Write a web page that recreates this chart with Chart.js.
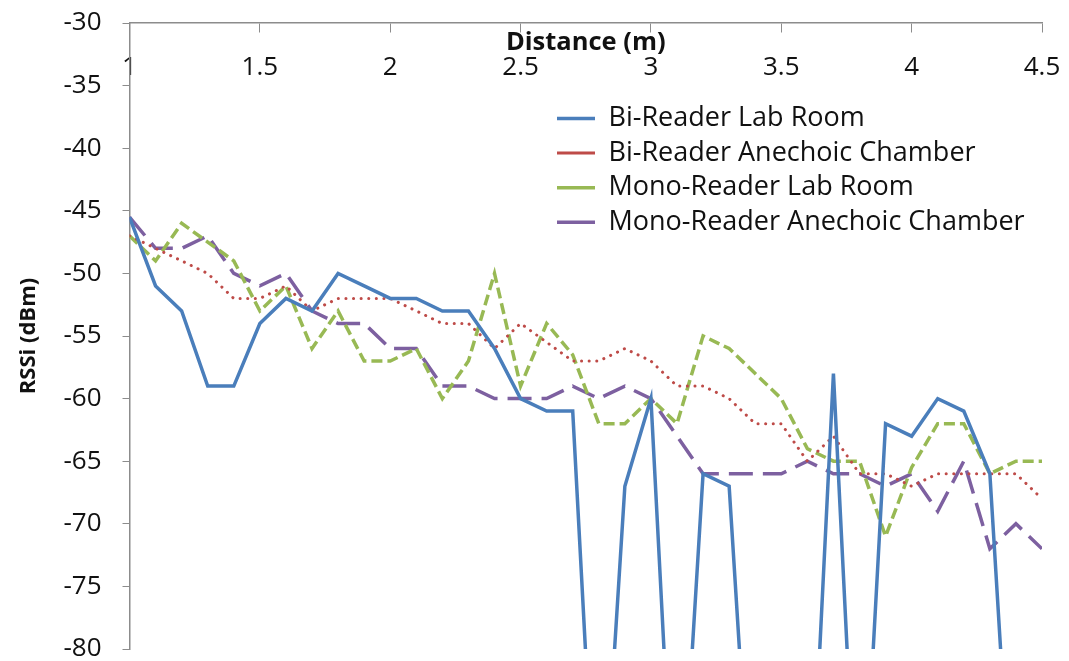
<!DOCTYPE html>
<html>
<head>
<meta charset="utf-8">
<title>RSSi vs Distance</title>
<script src="https://cdn.jsdelivr.net/npm/chart.js@4.4.1/dist/chart.umd.min.js"></script>
<style>
    html, body { margin: 0; padding: 0; background: #fff; }
    #wrap { width: 1069px; height: 661px; }
</style>
</head>
<body>
<div id="wrap"><canvas id="grafico-rssi" width="1069" height="661"></canvas></div>
<script>
// distance steps (m)
var distancias = [1.0, 1.1, 1.2, 1.3, 1.4, 1.5, 1.6, 1.7, 1.8, 1.9,
                  2.0, 2.1, 2.2, 2.3, 2.4, 2.5, 2.6, 2.7, 2.8, 2.9,
                  3.0, 3.1, 3.2, 3.3, 3.4, 3.5, 3.6, 3.7, 3.8, 3.9,
                  4.0, 4.1, 4.2, 4.3, 4.4, 4.5];

// RSSi readings (dBm); -100 = tag not read (falls off the bottom of the axis)
var biReaderLab = [-45.5, -51, -53, -59, -59, -54, -52, -53, -50, -51,
                   -52, -52, -53, -53, -56, -60, -61, -61, -100, -67,
                   -60, -100, -66, -67, -100, -100, -100, -58, -100, -62,
                   -63, -60, -61, -66, -100, -100];
var biReaderAnechoic = [-47, -48, -49, -50, -52, -52, -51, -53, -52, -52,
                        -52, -53, -54, -54, -56, -54, -55.5, -57, -57, -56,
                        -57, -59, -59, -60, -62, -62, -65, -63, -66, -66,
                        -67, -66, -66, -66, -66, -68];
var monoReaderLab = [-47, -49, -46, -47.5, -49, -53, -51, -56, -53, -57,
                     -57, -56, -60, -57, -50, -59, -54, -56.5, -62, -62,
                     -60, -62, -55, -56, -58, -60, -64, -65, -65, -71,
                     -65.5, -62, -62, -66, -65, -65];
var monoReaderAnechoic = [-45.5, -48, -48, -47, -50, -51, -50, -53, -54, -54,
                          -56, -56, -59, -59, -60, -60, -60, -59, -60, -59,
                          -60, -63, -66, -66, -66, -66, -65, -66, -66, -67,
                          -66, -69, -65, -72, -70, -72];

var nomesSeries = ['Bi-Reader Lab Room', 'Bi-Reader Anechoic Chamber',
                   'Mono-Reader Lab Room', 'Mono-Reader Anechoic Chamber'];
var ticksY = { min: -80, max: -30, passo: 5 };
var ticksX = { min: 1, max: 4.5, passo: 0.5 };

var corEixo = '#8c8c8c';
var corTexto = '#111';
var fonte = '"Open Sans", "Noto Sans", sans-serif';

function pares(valores) {
    return valores.map(function(v, i) { return { x: distancias[i], y: v }; });
}

// legend sits inside the plot area, to the right
var posicaoLegenda = {
    id: 'posicaoLegenda',
    afterLayout: function(chart) {
        var lg = chart.legend;
        if (!lg) return;
        lg.left = 549.4;
        lg.top = 97.4;
        lg.bottom = 661;
        lg.right = 1069;
    }
};

var ctx = document.getElementById('grafico-rssi');
var chartRssi = new Chart(ctx.getContext('2d'), {
    type: 'line',
    data: {
        datasets: [
            { label: nomesSeries[0], data: pares(biReaderLab), borderColor: '#4a7ebb', borderWidth: 3.5 },
            { label: nomesSeries[1], data: pares(biReaderAnechoic), borderColor: '#be4b48', borderWidth: 3,
              borderDash: [0.1, 7.5], borderCapStyle: 'round' },
            { label: nomesSeries[2], data: pares(monoReaderLab), borderColor: '#98b954', borderWidth: 3.5,
              borderDash: [11, 5] },
            { label: nomesSeries[3], data: pares(monoReaderAnechoic), borderColor: '#7d60a0', borderWidth: 3.5,
              borderDash: [24, 10] }
        ]
    },
    options: {
        responsive: false,
        animation: false,
        devicePixelRatio: 1,
        layout: { padding: { left: 0, top: 23, right: 27, bottom: 12 } },
        elements: {
            point: { radius: 0, hoverRadius: 0 },
            line: { tension: 0, fill: false }
        },
        plugins: {
            tooltip: { enabled: false },
            legend: {
                position: 'chartArea',
                align: 'start',
                labels: {
                    usePointStyle: true,
                    pointStyle: 'line',
                    pointStyleWidth: 38,
                    padding: 7.6,
                    color: corTexto,
                    font: { family: fonte, size: 27 }
                }
            }
        },
        scales: {
            x: {
                type: 'linear',
                min: ticksX.min,
                max: ticksX.max,
                position: { y: ticksY.max },
                // label overhang is allowed past the plot edges
                afterFit: function(scale) { scale.paddingLeft = 0; scale.paddingRight = 0; },
                grid: { drawOnChartArea: false, drawTicks: true, tickLength: 9, color: corEixo },
                border: { color: corEixo, width: 1.5 },
                ticks: {
                    stepSize: ticksX.passo,
                    padding: 20,
                    color: corTexto,
                    font: { family: fonte, size: 26 },
                    maxRotation: 0,
                    callback: function(v) { return String(v); }
                },
                title: {
                    display: true,
                    text: 'Distance (m)',
                    color: corTexto,
                    font: { family: fonte, size: 25.5, weight: 'bold' },
                    padding: { top: -76, bottom: 0 }
                }
            },
            y: {
                min: ticksY.min,
                max: ticksY.max,
                afterFit: function(scale) {
                    scale.width = 129.5;
                    scale.paddingTop = 0;
                    scale.paddingBottom = 0;
                },
                grid: { drawOnChartArea: false, drawTicks: true, tickLength: 7, color: corEixo },
                border: { color: corEixo, width: 1.5 },
                ticks: {
                    stepSize: ticksY.passo,
                    padding: 21,
                    color: corTexto,
                    font: { family: fonte, size: 26, lineHeight: 1 }
                },
                title: {
                    display: true,
                    text: 'RSSi (dBm)',
                    color: corTexto,
                    font: { family: fonte, size: 22, weight: 'bold' },
                    padding: { top: 16, bottom: 0 }
                }
            }
        }
    },
    plugins: [posicaoLegenda]
});
</script>
</body>
</html>
